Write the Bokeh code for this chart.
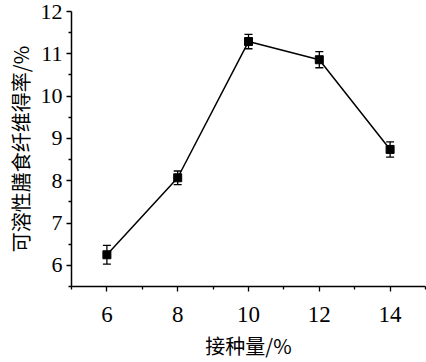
from bokeh.plotting import figure
from bokeh.models import ColumnDataSource, FixedTicker, Range1d, Whisker, TeeHead, Title
from bokeh.embed import file_html
from bokeh.resources import INLINE

inoculum = [6, 8, 10, 12, 14]
sdf_yield = [6.25, 8.07, 11.29, 10.86, 8.74]
err = [0.22, 0.16, 0.17, 0.19, 0.18]

x_ticks = [6, 8, 10, 12, 14]
x_minor = [5, 7, 9, 11, 13, 15]
y_ticks = [6, 7, 8, 9, 10, 11, 12]
y_minor = [5.5, 6.5, 7.5, 8.5, 9.5, 10.5, 11.5]

x_title = "接种量/%"
y_title = "可溶性膳食纤维得率/%"

src = ColumnDataSource(dict(
    x=inoculum, y=sdf_yield,
    lo=[v - e for v, e in zip(sdf_yield, err)],
    hi=[v + e for v, e in zip(sdf_yield, err)],
))

p = figure(width=426, height=362, output_backend="svg", toolbar_location=None,
           x_range=Range1d(5, 15), y_range=Range1d(5.5, 12),
           min_border_left=71, min_border_right=1, min_border_top=11, min_border_bottom=76)
p.outline_line_color = None
p.xgrid.visible = False
p.ygrid.visible = False
p.background_fill_color = "white"
p.border_fill_color = "white"

p.line("x", "y", source=src, line_color="black", line_width=1.5)
wh = Whisker(source=src, base="x", lower="lo", upper="hi", line_color="black", line_width=1.3,
             upper_head=TeeHead(size=8, line_color="black", line_width=1.3),
             lower_head=TeeHead(size=8, line_color="black", line_width=1.3))
p.add_layout(wh)
p.scatter("x", "y", source=src, marker="square", size=8, fill_color="black", line_color="black")

num_font = "Liberation Serif"
cjk_font = "Noto Sans CJK SC"

for ax, ticks, minor in ((p.xaxis[0], x_ticks, x_minor), (p.yaxis[0], y_ticks, y_minor)):
    ax.ticker = FixedTicker(ticks=ticks, minor_ticks=minor)
    ax.axis_line_color = "black"
    ax.axis_line_width = 1.5
    ax.major_tick_line_color = "black"
    ax.major_tick_line_width = 1.3
    ax.minor_tick_line_color = "black"
    ax.minor_tick_line_width = 1.3
    ax.major_tick_in = 0
    ax.major_tick_out = 5
    ax.minor_tick_in = 0
    ax.minor_tick_out = 3
    ax.major_label_text_font = num_font
    ax.major_label_text_font_size = "23px"
    ax.major_label_text_color = "black"
    ax.axis_label_text_font = cjk_font
    ax.axis_label_text_font_size = "20px"
    ax.axis_label_text_font_style = "normal"
    ax.axis_label_text_color = "black"

p.xaxis.axis_label = x_title
p.xaxis.major_label_standoff = 15
p.xaxis.axis_label_standoff = 6
p.yaxis.major_label_standoff = 4
p.yaxis.major_label_text_font_size = "22px"

ytitle = Title(text=y_title, align="center", text_font=cjk_font, text_font_size="20px",
               text_font_style="normal", text_color="black", standoff=5, offset=10)
p.add_layout(ytitle, "left")

open("out.html", "w").write(file_html(p, INLINE))
